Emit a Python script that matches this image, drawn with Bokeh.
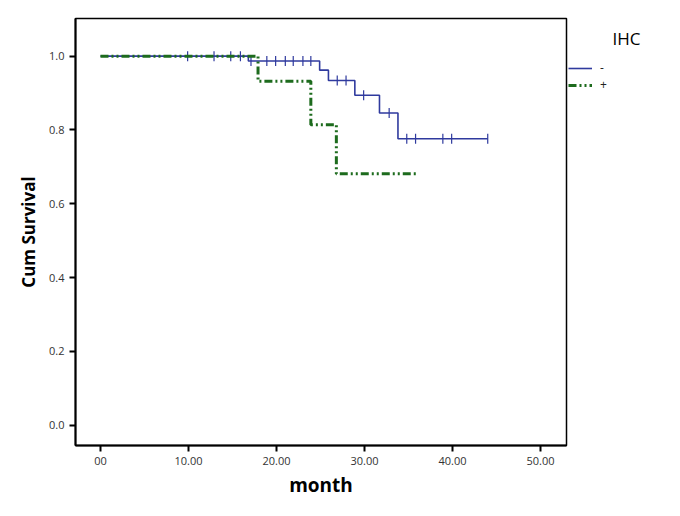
import numpy as np
from bokeh.plotting import figure
from bokeh.layouts import row
from bokeh.models import Range1d, Legend, LegendItem, FixedTicker, Label
from bokeh.embed import file_html
from bokeh.resources import INLINE

# IHC "-" group (blue): step times and cumulative survival
months_neg = [0.0, 16.8, 24.9, 25.9, 28.9, 31.7, 33.8, 44.0]
surv_neg = [1.0, 0.987, 0.962, 0.934, 0.894, 0.846, 0.776, 0.776]
cens_neg = [9.9, 12.9, 14.8, 15.9, 17.1, 18.9, 19.9, 21.0, 21.9, 23.0, 23.9,
            26.9, 27.9, 29.9, 32.8, 34.8, 35.8, 38.9, 39.9, 44.0]

# IHC "+" group (green)
months_pos = [0.0, 17.9, 23.9, 26.8, 35.9]
surv_pos = [1.0, 0.932, 0.814, 0.681, 0.681]

x_ticks = [0, 10, 20, 30, 40, 50]
x_tick_labels = ["00", "10.00", "20.00", "30.00", "40.00", "50.00"]
y_ticks = [0.0, 0.2, 0.4, 0.6, 0.8, 1.0]
y_tick_labels = ["0.0", "0.2", "0.4", "0.6", "0.8", "1.0"]
group_labels = ["-", "+"]
legend_title = "IHC"

BLUE = "#2f3a9e"
GREEN = "#1d6b1d"
FONT = "Open Sans"
GREEN_DASH = "8 3 2 3 2 3"

def surv_at(times, steps, survs):
    idx = np.searchsorted(np.array(steps), np.array(times), side="right") - 1
    return [survs[i] for i in idx]

p = figure(width=568, height=500, output_backend="svg", toolbar_location=None,
           x_range=Range1d(-2.84, 52.95), y_range=Range1d(-0.055, 1.102),
           min_border_left=75, min_border_right=2, min_border_top=18,
           min_border_bottom=55)
p.grid.visible = False
p.outline_line_color = "black"
p.outline_line_width = 1.5
p.background_fill_color = "white"

p.step(months_neg, surv_neg, mode="after", line_color=BLUE, line_width=1.6)
p.scatter(cens_neg, surv_at(cens_neg, months_neg, surv_neg), marker="dash",
          angle=np.pi / 2, size=10, line_color=BLUE, line_width=1.2)
p.step(months_pos, surv_pos, mode="after", line_color=GREEN, line_width=3,
       line_dash=GREEN_DASH)

p.xaxis.ticker = FixedTicker(ticks=x_ticks)
p.xaxis.major_label_overrides = {t: l for t, l in zip(x_ticks, x_tick_labels)}
p.yaxis.ticker = FixedTicker(ticks=y_ticks)
p.yaxis.major_label_overrides = {t: l for t, l in zip(y_ticks, y_tick_labels)}

for ax in (p.xaxis, p.yaxis):
    ax.axis_line_width = 2
    ax.axis_line_color = "black"
    ax.major_tick_line_width = 2
    ax.major_tick_out = 6
    ax.major_tick_in = 0
    ax.minor_tick_line_color = None
    ax.major_label_text_font = FONT
    ax.major_label_text_font_size = "11px"
    ax.major_label_text_color = "#333333"
    ax.axis_label_text_font = FONT
    ax.axis_label_text_font_style = "bold"
    ax.axis_label_text_color = "black"

p.xaxis.axis_label = "month"
p.xaxis.axis_label_text_font_size = "19px"
p.xaxis.axis_label_standoff = 4
p.yaxis.axis_label = "Cum Survival"
p.yaxis.axis_label_text_font_size = "17px"
p.yaxis.axis_label_standoff = 6

# side panel holding the legend (its frame is aligned with the main frame)
q = figure(width=96, height=500, output_backend="svg", toolbar_location=None,
           x_range=Range1d(0, 1), y_range=Range1d(0, 1),
           x_axis_location=None, y_axis_location=None,
           min_border_left=0, min_border_right=0, min_border_top=0,
           min_border_bottom=0)
q.grid.visible = False
q.outline_line_color = None
l_neg = q.line([np.nan, np.nan], [np.nan, np.nan], line_color=BLUE, line_width=1.6)
l_pos = q.line([np.nan, np.nan], [np.nan, np.nan], line_color=GREEN, line_width=3,
               line_dash=GREEN_DASH)

legend = Legend(items=[LegendItem(label=group_labels[0], renderers=[l_neg]),
                       LegendItem(label=group_labels[1], renderers=[l_pos])],
                location=(0, 352), border_line_color=None, background_fill_alpha=0,
                glyph_width=24, glyph_height=12, label_height=12, spacing=0,
                padding=0, margin=0, label_standoff=8,
                label_text_font=FONT, label_text_font_size="12px",
                label_text_color="#222222")
q.add_layout(legend, "center")
q.add_layout(Label(x=44, y=396, x_units="screen", y_units="screen", text=legend_title,
                   text_font=FONT, text_font_size="17px", text_color="black"))

open("out.html", "w").write(file_html(row(p, q), INLINE))
